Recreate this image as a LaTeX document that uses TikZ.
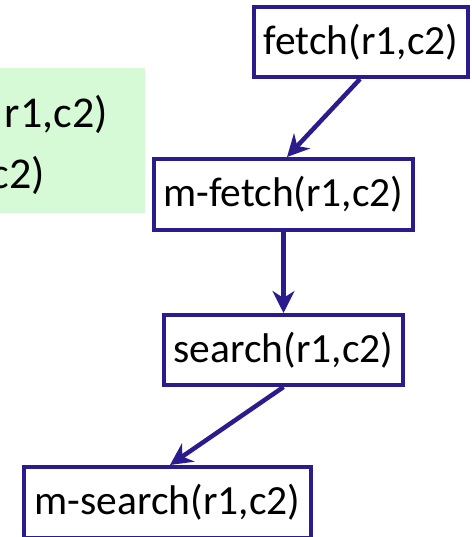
\documentclass[tikz,border=0pt]{standalone}
\usepackage{fontspec}
\setmainfont{Carlito}
\usetikzlibrary{arrows.meta}
\definecolor{boxblue}{RGB}{42,28,140}
\definecolor{notegreen}{RGB}{213,250,213}
\tikzset{
  opbox/.style={draw=boxblue, line width=4pt, fill=white, rectangle, inner sep=0pt,
    font=\fontsize{41.5}{50}\selectfont},
  arr/.style={draw=boxblue, line width=4.5pt, -{Stealth[length=22pt,width=22pt,inset=7pt]}},
  notetext/.style={font=\fontsize{44}{52}\selectfont, inner sep=0pt}
}
\begin{document}
\begin{tikzpicture}[x=1pt,y=-1pt]
\useasboundingbox (0,0) rectangle (471,537);
\begin{scope}
\clip (0,0) rectangle (471,537);
\fill[notegreen] (0,68) rectangle (145,213);
\node[notetext, anchor=base east] (n1) at (108,128) {r1,c2)};
\node[notetext, anchor=base east] (n2) at (45,189) {c2)};
\node[opbox, minimum width=214pt, minimum height=70pt] (fetch) at (361,42) {fetch(r1,c2)};
\node[opbox, minimum width=259pt, minimum height=71pt] (mfetch) at (283.5,194.5) {m-fetch(r1,c2)};
\node[opbox, minimum width=239pt, minimum height=70pt] (search) at (283.5,350) {search(r1,c2)};
\node[opbox, minimum width=287pt, minimum height=71pt] (msearch) at (167.5,502.5) {m-search(r1,c2)};
\draw[arr] ([xshift=-1pt]fetch.south) -- ([xshift=3.5pt]mfetch.north);
\draw[arr] (mfetch.south) -- (search.north);
\draw[arr] (search.south) -- ([xshift=2.5pt]msearch.north);
\end{scope}
\end{tikzpicture}
\end{document}
